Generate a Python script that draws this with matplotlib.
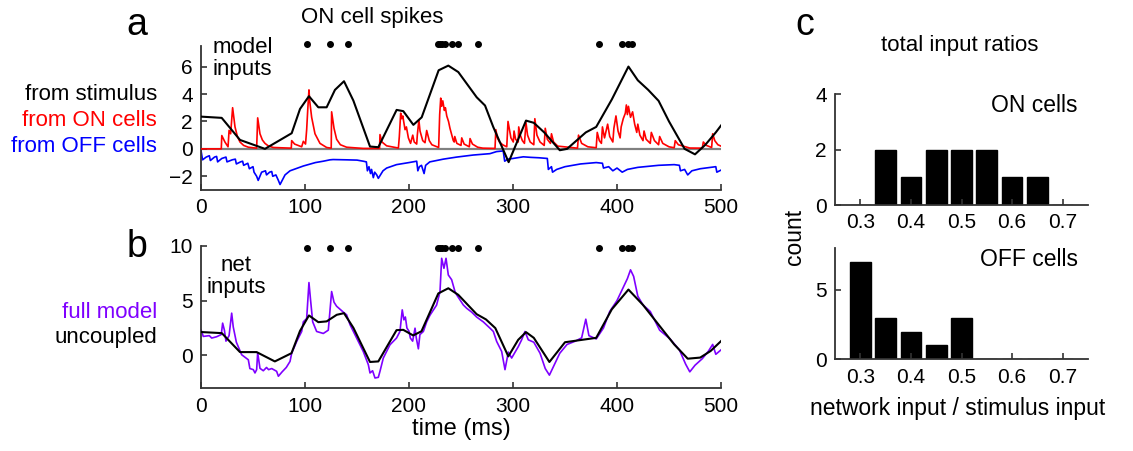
import numpy as np
import matplotlib
matplotlib.use("Agg")
import matplotlib.pyplot as plt

plt.rcParams['font.family'] = ['Liberation Sans', 'DejaVu Sans']

W, H = 1133, 451

# ---- panel a: model inputs (ms, value) ----
stim_pts = [(0, 2.35), (19.9, 2.26), (37.5, 0.65), (61.5, 0.0), (87.2, 1.14), (95.2, 2.91),
            (103.8, 3.84), (112.8, 3.03), (120.8, 3.03), (128.8, 4.3), (137.5, 4.93), (146.5, 3.52),
            (162.5, 0.17), (170.5, 0.12), (188.1, 2.84), (194.5, 2.75), (204.2, 1.75), (212.2, 2.3),
            (228.5, 5.73), (237.8, 6.07), (247.4, 5.6), (265.1, 3.76), (273.1, 3.16), (281, 1.6),
            (295.8, -0.97), (312.5, 2.06), (320, 1.9), (330, 1.2), (345, -0.1), (352, 0.0),
            (370, 1.2), (380, 1.6), (395, 3.6), (411, 6.0), (420, 5.0), (430, 4.3), (440, 3.5),
            (450, 2.0), (465, 0.0), (475, -0.4), (485, 0.3), (495, 1.2), (500, 1.7)]

on_pts = [(0, 0), (19.5, 0), (20, 0.97), (23, 0.5), (26, 0.15), (27, 1.35), (28.5, 1.1), (30.4, 3.0),
          (32.7, 1.6), (35, 0.9), (37.5, 0.5), (41, 0.25), (45.5, 0.12), (53.5, 0.05), (54.5, 2.26),
          (56.7, 1.1), (59, 0.65), (61.5, 0.4), (65, 0.2), (69.5, 0.1), (86.8, 0.05), (87.2, 0.6),
          (90, 0.35), (96.8, 0.15), (98.4, 0.55), (100.5, 0.35), (101.6, 1.4), (102.6, 2.8),
          (103.8, 4.3), (104.5, 3.5), (106.4, 2.3), (109.6, 1.1), (114.4, 0.4), (120.8, 0.1),
          (125.2, 0.05), (125.6, 2.7), (127.9, 1.5), (130.4, 0.7), (134, 0.3), (140, 0.12),
          (156, 0.03), (171.7, 0.03), (172.1, 1.04), (174, 0.5), (178.5, 0.22), (189.8, 0.06),
          (190.7, 0.9), (192, 2.6), (193, 2.2), (194, 2.4), (196.2, 1.4), (197.5, 1.6), (199.4, 0.8),
          (201.5, 0.4), (203.6, 1.0), (205, 0.5), (207.4, 0.35), (208, 1.0), (209.5, 2.1),
          (210.6, 1.3), (213.2, 0.6), (215.4, 0.45), (217, 1.34), (219.5, 0.6), (222, 0.3),
          (228.5, 0.1), (229.5, 2.5), (230.5, 3.7), (231.4, 3.1), (232.5, 3.5), (234, 2.8),
          (235, 3.0), (236.3, 2.4), (238, 2.0), (239.4, 1.5), (240.5, 1.2), (242.6, 0.6),
          (243.5, 0.5), (244, 0.9), (246, 0.4), (250, 0.25), (250.7, 0.8), (253, 0.35),
          (258, 0.15), (258.7, 0.75), (261, 0.35), (266, 0.12), (271, 0.05), (282.7, 0.03),
          (283.5, 1.4), (285, 0.8), (287, 0.5), (290, 0.3), (294, 0.15), (295.2, 2.0), (297, 1.2),
          (298, 0.8), (300.3, 0.5), (301, 1.3), (302.5, 0.7), (305, 0.5), (305.5, 1.6), (307, 1.0),
          (309, 0.6), (311, 0.4), (312.5, 1.9), (314, 1.0), (316.5, 0.5), (320, 0.3), (321, 2.2),
          (323, 1.0), (326, 0.5), (330, 0.25), (331, 1.5), (333, 0.7), (336, 0.4), (337, 1.1),
          (339, 0.5), (343, 0.2), (362, 0.05), (363, 1.0), (366, 0.4), (372, 0.15), (380, 0.08),
          (381, 1.2), (383, 0.6), (385, 0.4), (386, 1.6), (388, 0.8), (391, 1.8), (393, 0.9),
          (396, 0.5), (397, 1.5), (399, 2.4), (401, 1.3), (403, 0.8), (404, 1.6), (406, 2.2),
          (408, 2.6), (409, 3.2), (410, 2.5), (411, 3.1), (413, 2.3), (415, 2.7), (417, 1.8),
          (419, 1.2), (420, 1.8), (422, 1.0), (425, 0.6), (426, 1.3), (428, 0.7), (432, 0.4),
          (433, 1.2), (436, 0.6), (440, 0.3), (441, 0.9), (444, 0.4), (450, 0.15), (455, 0.08),
          (456, 0.6), (459, 0.3), (470, 0.06), (482, 0.05), (483, 0.5), (486, 0.25), (491, 0.1),
          (492, 1.1), (494, 0.6), (497, 0.3), (500, 0.2)]

off_pts = [(0, -0.12), (1.5, -0.8), (5, -0.6), (8, -0.5), (9, -0.85), (13, -0.6), (15, -0.55),
           (16, -0.95), (20, -0.7), (24, -0.6), (25, -0.95), (30, -0.8), (33, -0.75), (34, -1.1),
           (38, -0.95), (40, -0.9), (41, -1.2), (45, -1.05), (46.5, -1.45), (50, -1.3), (51, -1.7),
           (53.5, -2.0), (55, -2.3), (58.3, -1.7), (62, -1.6), (63, -1.9), (66, -1.7), (68, -1.65),
           (69, -2.0), (72, -1.9), (74.4, -2.3), (76, -2.6), (80.8, -1.9), (85.6, -1.6),
           (98.4, -1.25), (110, -1.0), (117.6, -0.9), (124, -0.8), (127, -0.78), (140, -0.8),
           (150, -0.82), (156, -0.9), (159, -0.95), (160, -1.6), (161.5, -1.3), (163, -1.8),
           (164, -1.5), (165.7, -2.1), (167, -1.7), (169, -1.9), (170.5, -2.15), (175, -1.6),
           (178.5, -1.4), (188, -1.15), (200, -1.0), (207.4, -0.9), (208.5, -1.6), (210, -1.3),
           (212, -1.2), (214.5, -1.8), (216, -1.2), (220, -0.95), (233, -0.75), (245.8, -0.6),
           (261.8, -0.45), (277.8, -0.35), (284.2, -0.2), (290.6, -0.15), (292, -0.9),
           (295, -0.75), (300, -0.7), (309.9, -0.58), (317, -0.62), (325, -0.65), (333, -0.7),
           (334, -1.5), (337, -1.3), (338, -1.7), (342, -1.5), (350, -1.3), (365, -1.1),
           (380, -1.0), (386, -1.05), (387, -1.4), (392, -1.3), (396, -1.6), (400, -1.4),
           (405, -1.7), (410, -1.5), (420, -1.35), (440, -1.2), (455, -1.15), (460, -1.2),
           (461, -1.6), (465, -1.5), (468, -1.9), (472, -1.6), (480, -1.45), (490, -1.35),
           (495, -1.3), (496, -1.7), (500, -1.55)]

# ---- panel b: net inputs ----
full_pts = [(0, 2.33), (2.2, 1.73), (8, 1.8), (10.3, 1.58), (15, 1.7), (19.5, 1.9), (20.8, 2.94),
            (22.5, 2.3), (24, 1.3), (27, 1.8), (29.5, 3.85), (31, 2.6), (34, 1.2), (39.1, 0.06),
            (45.5, -0.4), (47, -1.2), (50.3, -1.3), (51.9, -1.6), (53.5, -1.3), (54.5, 0.24),
            (56.7, -1.18), (59.9, -1.4), (63, -1.1), (65, -1.3), (68, -1.2), (72.7, -1.45),
            (74.4, -1.9), (78, -1.5), (82, -1.1), (85.6, -0.55), (87.2, 0.2), (92, 1.27),
            (96.8, 2.18), (98.4, 3.06), (101.6, 3.36), (103.8, 6.64), (105.4, 5.0), (107.4, 3.06),
            (111.2, 2.18), (117.6, 2.0), (122.4, 2.3), (125.6, 5.82), (127.9, 4.85), (130.4, 4.48),
            (136.9, 3.94), (140, 3.7), (143.3, 2.8), (149.7, 1.58), (156, 0.36), (160.9, -0.85),
            (162.5, -1.6), (165, -1.4), (167.3, -2.06), (170.5, -2.0), (172.1, -1.45),
            (175.3, -0.24), (181.7, 0.97), (188, 1.58), (191.3, 2.18), (193.5, 4.15),
            (195.1, 3.24), (196.5, 3.5), (198, 2.5), (200, 2.2), (201.3, 1.58), (203.5, 1.3),
            (205.8, 2.48), (207, 1.6), (209, 0.6), (210.5, 1.9), (213.8, 2.18), (217, 3.06),
            (220.2, 3.67), (226.5, 4.58), (229.8, 5.8), (231.4, 8.85), (233.6, 7.94),
            (235.6, 8.85), (237.8, 7.33), (241, 6.9), (244.2, 5.82), (246, 5.5), (249, 5.06),
            (252.2, 4.6), (255.4, 4.3), (260.3, 3.94), (265, 3.5), (271.5, 3.05), (277.9, 2.48),
            (281.1, 2.18), (284.3, 1.27), (289.1, 0.36), (292.3, -1.3), (295.5, 0.3),
            (298.7, -0.24), (305.1, 0.8), (308.3, 1.42), (311.5, 2.18), (314.7, 1.42),
            (320, 1.2), (326, 0.2), (331, -1.2), (335, -1.8), (339, -1.0), (345, 0.2), (352, 1.0),
            (360, 1.3), (366, 1.6), (370, 3.3), (373, 1.8), (380, 1.5), (387, 2.5), (393, 4.0),
            (400, 5.0), (405, 6.0), (410, 7.0), (413, 7.8), (416, 7.2), (420, 5.4), (425, 4.6),
            (432, 4.0), (441, 2.3), (451, 1.5), (460, 0.5), (466, -0.8), (470, -1.5), (475, -0.9),
            (482, -0.3), (488, 0.4), (492, 1.0), (495, 0.1), (500, 0.5)]

uncoupled_pts = [(0, 2.13), (20, 2.03), (37.5, 0.3), (53.5, 0.3), (71, -0.55), (87, 0.2),
                 (95.2, 2.23), (103.8, 3.64), (112.8, 3.03), (120.8, 3.1), (130.5, 3.7),
                 (137.5, 3.85), (146.5, 2.52), (162.5, -0.6), (170.5, -0.55), (188, 2.3),
                 (194.5, 2.33), (204, 1.82), (212, 2.2), (228.2, 5.65), (237.8, 6.12),
                 (247.4, 5.52), (265, 3.76), (274, 3.28), (283, 2.49), (295.5, -0.09), (305, 1.42),
                 (312.5, 2.12), (320, 1.6), (335, -0.6), (350, 1.2), (365, 1.4), (380, 1.6),
                 (395, 4.2), (411, 6.0), (425, 4.6), (440, 2.8), (455, 1.0), (468, -0.3),
                 (480, -0.2), (490, 0.4), (500, 1.3)]

spike_times = [102, 124, 141, 228, 230, 232, 235, 241, 247, 266, 383, 405, 411, 414]

# ---- panel c: histograms ----
bin_centers = [0.30, 0.35, 0.40, 0.45, 0.50, 0.55, 0.60, 0.65, 0.70]
on_counts = [0, 2, 1, 2, 2, 2, 1, 1, 0]
off_counts = [7, 3, 2, 1, 3, 0, 0, 0, 0]

purple = '#7f00ff'
spine_c = '#333333'
fs_tick = 15
fs_lab = 16


def px_box(l, r, t, b):
    return [l / W, 1 - b / H, (r - l) / W, (b - t) / H]


def fig_txt(x, y, s, **kw):
    fig.text(x / W, 1 - y / H, s, **kw)


def style(ax):
    for s in ['top', 'right']:
        ax.spines[s].set_visible(False)
    for s in ['left', 'bottom']:
        ax.spines[s].set_color(spine_c)
        ax.spines[s].set_linewidth(1.3)
    ax.tick_params(direction='in', length=4, width=1.2, color=spine_c,
                   labelsize=fs_tick, pad=6)


fig = plt.figure(figsize=(W / 100, H / 100), dpi=100)

# panel a
axa = fig.add_axes(px_box(201, 721, 46, 190))
style(axa)
axa.axhline(0, color='#808080', lw=1.6, zorder=1)
t, v = zip(*off_pts)
axa.plot(t, v, color='#0000ff', lw=1.2, zorder=2)
t, v = zip(*on_pts)
axa.plot(t, v, color='#ff0000', lw=1.2, zorder=3)
t, v = zip(*stim_pts)
axa.plot(t, v, color='black', lw=1.5, zorder=4)
axa.plot(spike_times, [7.65] * len(spike_times), 'o', color='black', ms=4, clip_on=False)
axa.set_xlim(0, 500)
axa.set_ylim(-3, 7.5)
axa.set_yticks([-2, 0, 2, 4, 6])
axa.set_xticks([0, 100, 200, 300, 400, 500])
axa.text(11, 6.6, 'model\ninputs', fontsize=fs_lab, va='center', ha='left', linespacing=1.05)

# panel b
axb = fig.add_axes(px_box(201, 721, 245.7, 388.3))
style(axb)
t, v = zip(*full_pts)
axb.plot(t, v, color=purple, lw=1.2, zorder=2)
t, v = zip(*uncoupled_pts)
axb.plot(t, v, color='black', lw=1.5, zorder=3)
axb.plot(spike_times, [9.76] * len(spike_times), 'o', color='black', ms=4, clip_on=False)
axb.set_xlim(0, 500)
axb.set_ylim(-3, 10)
axb.set_yticks([0, 5, 10])
axb.set_xticks([0, 100, 200, 300, 400, 500])
axb.text(34, 7.2, 'net\ninputs', fontsize=fs_lab, va='center', ha='center', linespacing=1.05)
axb.set_xlabel('time (ms)', fontsize=17, labelpad=2)

# panel c
axc1 = fig.add_axes(px_box(835, 1088, 94, 205))
axc2 = fig.add_axes(px_box(835, 1088, 248.3, 359.3))
for ax, counts, ymax, yt, name in [(axc1, on_counts, 4, [0, 2, 4], 'ON cells'),
                                   (axc2, off_counts, 8, [0, 5], 'OFF cells')]:
    style(ax)
    ax.bar(bin_centers, counts, width=0.041, color='black', edgecolor='black', linewidth=1)
    ax.set_xlim(0.25, 0.75)
    ax.set_ylim(0, ymax)
    ax.set_yticks(yt)
    ax.set_xticks([0.3, 0.4, 0.5, 0.6, 0.7])
    ax.set_xticklabels(['0.3', '0.4', '0.5', '0.6', '0.7'])
    ax.text(0.96, 0.9, name, transform=ax.transAxes, fontsize=16.5, ha='right', va='center')

# labels
fig_txt(137, 35, 'a', fontsize=27, ha='center', va='baseline')
fig_txt(137, 257, 'b', fontsize=27, ha='center', va='baseline')
fig_txt(805, 35, 'c', fontsize=27, ha='center', va='baseline')
fig_txt(372, 18, 'ON cell spikes', fontsize=fs_lab, ha='center', va='center')
fig_txt(960, 46, 'total input ratios', fontsize=fs_lab, ha='center', va='center')
fig_txt(958, 408, 'network input / stimulus input', fontsize=16.5, ha='center', va='center')
fig_txt(795, 237, 'count', fontsize=16.5, ha='center', va='center', rotation=90)

fig_txt(157, 95, 'from stimulus', fontsize=fs_lab, ha='right', va='center', color='black')
fig_txt(157, 121, 'from ON cells', fontsize=fs_lab, ha='right', va='center', color='#ff0000')
fig_txt(157, 146, 'from OFF cells', fontsize=fs_lab, ha='right', va='center', color='#0000ff')
fig_txt(157, 313, 'full model', fontsize=fs_lab, ha='right', va='center', color=purple)
fig_txt(157, 337, 'uncoupled', fontsize=fs_lab, ha='right', va='center', color='black')

fig.savefig('out.png', dpi=100)
